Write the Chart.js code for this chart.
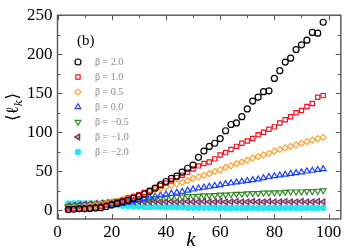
<!DOCTYPE html>
<html>
<head>
<meta charset="utf-8">
<script src="https://cdn.jsdelivr.net/npm/chart.js@4"></script>
<style>
  html, body { margin: 0; padding: 0; background: #fff; }
  #wrap { width: 346px; height: 250px; position: relative; }
</style>
</head>
<body>
<div id="wrap"><canvas id="chart" width="346" height="250"></canvas></div>
<script>
// k values (every 2 from 4 to 98)
const kValues = [4, 6, 8, 10, 12, 14, 16, 18, 20, 22, 24, 26, 28, 30, 32, 34, 36, 38, 40, 42, 44, 46, 48, 50,
                 52, 54, 56, 58, 60, 62, 64, 66, 68, 70, 72, 74, 76, 78, 80, 82, 84, 86, 88, 90, 92, 94, 96, 98];

const beta20 = [1, 1.5, 2, 2, 2.5, 3, 3.5, 5, 7, 9, 11, 13, 15.5, 18, 21, 24.5, 28.5, 33, 37, 41, 44, 49, 54, 58,
                68, 76, 82, 86, 92, 102, 110, 112, 120, 130, 140, 145, 152, 153, 169, 179, 190, 195, 206, 212, 218, 228, 227, 241];
const beta10 = [2, 2, 2, 3, 3, 4, 5, 7, 9, 11, 13, 16, 18, 20, 23, 26, 29, 32, 35, 38, 42, 45, 49, 53,
                57, 60, 62, 66, 71, 74, 78, 82, 86, 89, 92, 97, 100, 104, 107, 112, 116, 120, 125, 128, 133, 137, 145, 147];
const beta05 = [3, 4, 4, 5, 6, 7, 8, 9, 11, 12, 14, 16, 18, 20, 22, 24, 26, 28, 30, 32, 34, 36, 38, 41,
                43, 45, 47, 50, 52, 55, 57, 60, 62, 64, 67, 69, 71, 73, 76, 78, 80, 82, 84, 86, 88, 90, 92, 93.5];
const beta00 = [4, 4.5, 5, 5, 5.5, 6, 6.5, 7, 7.5, 8, 9, 10.5, 12, 13.5, 15, 16.5, 18, 19.5, 20.5, 21.5, 23, 24, 25.5, 27,
                28.5, 29.5, 30.5, 31.5, 32.5, 34, 35, 36, 37, 38, 39, 40, 41.5, 43, 44, 45, 46, 47, 48, 49, 50, 51, 52, 53];
const betaM05 = [5, 5, 6, 6.5, 7, 8, 9, 10, 11, 12, 12.5, 13, 13.5, 14, 14.5, 15, 15.5, 16, 16.5, 17, 17, 17.5, 18, 18,
                 18.5, 19, 19, 19.5, 20, 20, 20.5, 21, 21, 21.5, 22, 22, 22.5, 22.5, 23, 23, 23.5, 24, 24, 24, 24.5, 24.5, 25, 25.5];
const betaM10 = [6, 6.5, 7, 8, 8.5, 9, 9.5, 10, 10.5, 11, 11, 11, 11, 11.5, 11, 11, 11.5, 11, 11, 11.5, 11, 11, 11.5, 11,
                 11, 11.5, 11, 11, 11.5, 11, 11, 11.5, 11, 11, 11.5, 11, 11, 11.5, 11, 11, 11.5, 11, 11, 11.5, 11, 11, 11.5, 11];
const betaM20 = [9, 9, 9.5, 9, 9, 8.5, 8, 7.5, 7, 6.5, 6, 5.5, 5, 5, 4.5, 4.5, 4.5, 4, 4, 4, 4, 4, 3.5, 3.5,
                 3.5, 3.5, 3.5, 3.5, 3, 3, 3, 3, 3, 3, 3, 3, 3, 3, 3, 3, 3, 3, 3, 3, 3, 3, 3, 3];

const seriesLabels = ['β = 2.0', 'β = 1.0', 'β = 0.5', 'β = 0.0', 'β = −0.5', 'β = −1.0', 'β = −2.0'];
const xTicks = [0, 20, 40, 60, 80, 100];
const yTicks = [0, 50, 100, 150, 200, 250];

function pts(ys) {
    return kValues.map(function (k, i) { return { x: k, y: ys[i] }; });
}

const styles = [
    { pointStyle: 'circle', radius: 3, borderColor: '#000000', backgroundColor: 'rgba(0,0,0,0)', rotation: 0 },
    { pointStyle: 'rect', radius: 3, borderColor: '#f0101e', backgroundColor: 'rgba(0,0,0,0)', rotation: 0 },
    { pointStyle: 'rectRot', radius: 3, borderColor: '#ffa030', backgroundColor: 'rgba(0,0,0,0)', rotation: 0 },
    { pointStyle: 'triangle', radius: 3.3, borderColor: '#1a3cff', backgroundColor: 'rgba(0,0,0,0)', rotation: 0 },
    { pointStyle: 'triangle', radius: 3.3, borderColor: '#2e8b22', backgroundColor: 'rgba(0,0,0,0)', rotation: 180 },
    { pointStyle: 'triangle', radius: 3.3, borderColor: '#7a2a5e', backgroundColor: 'rgba(160,90,140,0.6)', rotation: -90 },
    { pointStyle: 'circle', radius: 2.6, borderColor: '#25e6f2', backgroundColor: '#25e6f2', rotation: 0 }
];
const allSeries = [beta20, beta10, beta05, beta00, betaM05, betaM10, betaM20];

const datasets = allSeries.map(function (s, i) {
    return {
        label: seriesLabels[i],
        data: pts(s),
        pointStyle: styles[i].pointStyle,
        pointRadius: styles[i].radius,
        pointRotation: styles[i].rotation,
        pointBorderColor: styles[i].borderColor,
        pointBackgroundColor: styles[i].backgroundColor,
        pointBorderWidth: 1.2,
        showLine: false,
        order: i
    };
});

// frame, inward ticks, legend and labels
const decorPlugin = {
    id: 'decor',
    afterDraw: function (chart) {
        const ctx = chart.ctx;
        const a = chart.chartArea;
        const xs = chart.scales.x, ys = chart.scales.y;
        ctx.save();
        ctx.strokeStyle = '#555';
        ctx.lineWidth = 1.4;
        ctx.strokeRect(a.left, a.top, a.right - a.left, a.bottom - a.top);

        ctx.lineWidth = 1;
        ctx.beginPath();
        for (let v = 0; v <= 100; v += 10) {
            const px = Math.round(xs.getPixelForValue(v)) + 0.5;
            const len = (v % 20 === 0) ? 5 : 3;
            ctx.moveTo(px, a.bottom); ctx.lineTo(px, a.bottom - len);
            ctx.moveTo(px, a.top); ctx.lineTo(px, a.top + len);
        }
        for (let v = 0; v <= 250; v += 25) {
            const py = Math.round(ys.getPixelForValue(v)) + 0.5;
            const len = (v % 50 === 0) ? 5 : 3;
            ctx.moveTo(a.left, py); ctx.lineTo(a.left + len, py);
            ctx.moveTo(a.right, py); ctx.lineTo(a.right - len, py);
        }
        ctx.stroke();

        // (b) panel tag
        ctx.fillStyle = '#000';
        ctx.font = '15px "Liberation Serif"';
        ctx.textBaseline = 'middle';
        ctx.fillText('(b)', 77, 41);

        // legend
        for (let i = 0; i < styles.length; i++) {
            const y = 62 + i * 15;
            ctx.strokeStyle = styles[i].borderColor;
            ctx.fillStyle = styles[i].backgroundColor;
            ctx.lineWidth = 1.2;
            Chart.helpers.drawPoint(ctx, {
                pointStyle: styles[i].pointStyle,
                radius: styles[i].radius,
                rotation: styles[i].rotation,
                borderWidth: 1.2
            }, 78, y);
            ctx.fillStyle = '#888';
            ctx.font = '10px "Liberation Serif"';
            ctx.fillText(seriesLabels[i], 95, y);
        }

        // axis titles
        ctx.fillStyle = '#000';
        ctx.font = 'italic 21px "Liberation Serif"';
        ctx.textAlign = 'center';
        ctx.textBaseline = 'middle';
        ctx.fillText('k', 191, 240);

        ctx.translate(14, 107);
        ctx.rotate(-Math.PI / 2);
        ctx.font = '17px "DejaVu Serif"';
        ctx.textAlign = 'left';
        const t1 = '⟨ℓ';
        const w1 = ctx.measureText(t1).width;
        ctx.font = 'italic 11px "DejaVu Serif"';
        const w2 = ctx.measureText('k').width;
        ctx.font = '17px "DejaVu Serif"';
        const w3 = ctx.measureText('⟩').width;
        let x0 = -(w1 + w2 + w3) / 2;
        ctx.fillText(t1, x0, 0);
        ctx.font = 'italic 11px "DejaVu Serif"';
        ctx.fillText('k', x0 + w1, 5);
        ctx.font = '17px "DejaVu Serif"';
        ctx.fillText('⟩', x0 + w1 + w2, 0);
        ctx.restore();
    }
};

const ctx = document.getElementById('chart').getContext('2d');
const chart = new Chart(ctx, {
    type: 'scatter',
    data: { datasets: datasets },
    options: {
        responsive: false,
        animation: false,
        layout: { padding: { top: 7, right: 3, left: 0, bottom: 0 } },
        plugins: {
            legend: { display: false },
            tooltip: { enabled: false }
        },
        scales: {
            x: {
                type: 'linear',
                min: 0,
                max: 104.5,
                afterBuildTicks: function (scale) {
                    scale.ticks = xTicks.map(function (v) { return { value: v }; });
                },
                afterFit: function (scale) { scale.height = 31; },
                grid: { display: false, drawTicks: false },
                border: { display: false },
                ticks: {
                    padding: 3,
                    color: '#000',
                    maxRotation: 0,
                    font: { family: 'Liberation Serif', size: 17 }
                }
            },
            y: {
                type: 'linear',
                min: -11,
                max: 250,
                afterBuildTicks: function (scale) {
                    scale.ticks = yTicks.map(function (v) { return { value: v }; });
                },
                afterFit: function (scale) { scale.width = 57.5; },
                grid: { display: false, drawTicks: false },
                border: { display: false },
                ticks: {
                    padding: 5,
                    color: '#000',
                    font: { family: 'Liberation Serif', size: 17 }
                }
            }
        }
    },
    plugins: [decorPlugin]
});
</script>
</body>
</html>
